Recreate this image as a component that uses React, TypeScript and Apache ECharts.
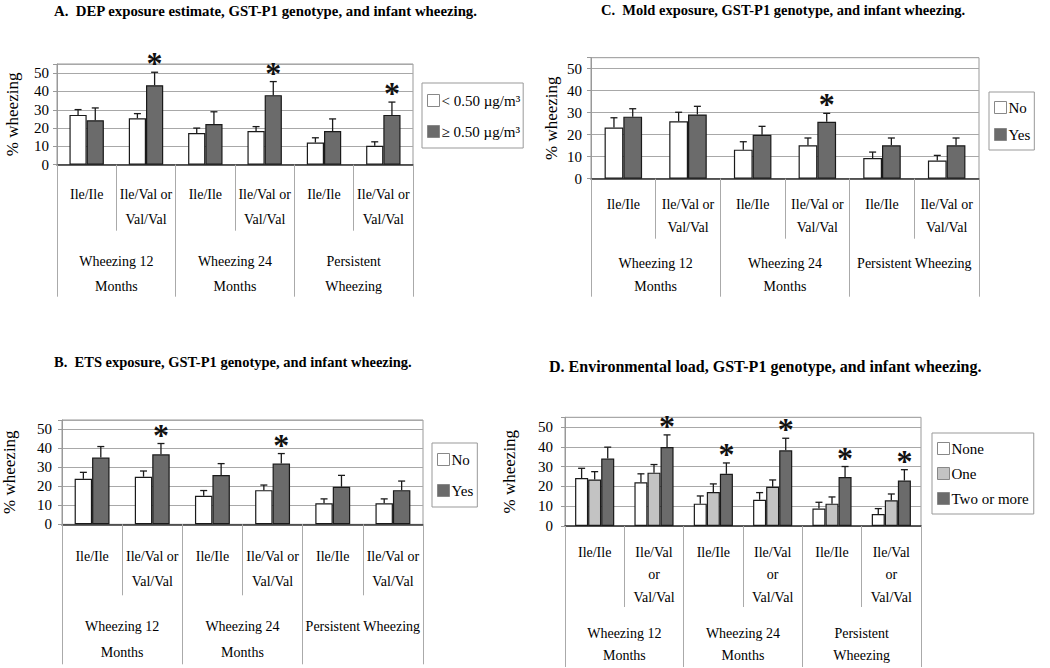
import React, { useEffect, useRef } from 'react';
import * as echarts from 'echarts';

const FONT = "'Liberation Serif', 'Times New Roman', serif";

// ---- category labels ----
const subCats = ['Ile/Ile', 'Ile/Val or\nVal/Val', 'Ile/Ile', 'Ile/Val or\nVal/Val', 'Ile/Ile', 'Ile/Val or\nVal/Val'];
const subCatsD = ['Ile/Ile', 'Ile/Val\nor\nVal/Val', 'Ile/Ile', 'Ile/Val\nor\nVal/Val', 'Ile/Ile', 'Ile/Val\nor\nVal/Val'];
const groupsTwoLine = ['Wheezing 12\nMonths', 'Wheezing 24\nMonths', 'Persistent\nWheezing'];
const groupsOneLine = ['Wheezing 12\nMonths', 'Wheezing 24\nMonths', 'Persistent Wheezing'];

// ---- A: DEP ----
const depLowName = '< 0.50 µg/m³';
const depHighName = '≥ 0.50 µg/m³';
const depLow = [27.2, 25.4, 17.3, 18.4, 12.1, 10.3];
const depLowUpper = [30.1, 27.9, 20.0, 20.8, 14.7, 12.5];
const depHigh = [24.3, 43.4, 22.2, 38.0, 18.4, 27.2];
const depHighUpper = [31.0, 50.5, 28.9, 45.4, 25.0, 34.2];
const depHighSig = [0, 1, 0, 1, 0, 1];

// ---- B: ETS ----
const etsNo = [24.0, 25.1, 15.0, 18.0, 11.1, 11.1];
const etsNoUpper = [27.4, 28.1, 17.8, 20.7, 13.4, 13.4];
const etsYes = [35.2, 36.9, 26.0, 32.0, 19.8, 18.0];
const etsYesUpper = [41.0, 42.6, 32.0, 37.3, 25.8, 22.8];
const etsYesSig = [0, 1, 0, 1, 0, 0];

// ---- C: Mold ----
const moldNo = [23.3, 26.1, 13.2, 15.2, 9.4, 8.3];
const moldNoUpper = [27.7, 30.2, 16.8, 18.5, 12.1, 10.6];
const moldYes = [28.2, 29.2, 20.0, 25.9, 15.2, 15.2];
const moldYesUpper = [31.8, 32.9, 23.8, 29.7, 18.5, 18.5];
const moldYesSig = [0, 0, 0, 1, 0, 0];

// ---- D: Environmental load ----
const loadNone = [24.3, 22.1, 11.3, 13.3, 8.8, 6.1];
const loadNoneUpper = [29.2, 26.4, 15.2, 16.9, 12.0, 8.8];
const loadOne = [23.5, 27.0, 17.2, 19.8, 11.3, 13.0];
const loadOneUpper = [27.5, 31.1, 21.3, 23.3, 14.7, 16.2];
const loadTwo = [34.1, 40.0, 26.4, 38.3, 24.8, 23.0];
const loadTwoUpper = [39.9, 46.1, 31.9, 44.4, 30.1, 28.5];
const loadTwoSig = [0, 1, 1, 1, 1, 1];

const WHITE = '#ffffff';
const DARK = '#6b6b6b';
const LIGHT = '#c3c3c3';

type Layout = {
  grid: { left: number; top: number; width: number; height: number };
  subTick: number; groupTick: number;
  subMargin: number; subLH: number; groupMargin: number; groupLH: number;
  nameGap: number; labelMargin: number; frac: number;
};

const layouts: Layout[] = [
  { grid: { left: 57, top: 64, width: 356, height: 100.7 }, subTick: 66, groupTick: 132, subMargin: 17, subLH: 25, groupMargin: 84, groupLH: 25, nameGap: 36, labelMargin: 8, frac: 0.29 },
  { grid: { left: 50, top: 420, width: 373, height: 104.3 }, subTick: 71, groupTick: 140, subMargin: 20, subLH: 25, groupMargin: 89, groupLH: 26, nameGap: 44, labelMargin: 10, frac: 0.29 },
  { grid: { left: 591, top: 57.7, width: 388, height: 121 }, subTick: 60, groupTick: 118, subMargin: 14, subLH: 23, groupMargin: 73, groupLH: 23, nameGap: 31, labelMargin: 9, frac: 0.29 },
  { grid: { left: 565, top: 417.3, width: 356, height: 108.7 }, subTick: 81, groupTick: 141, subMargin: 15, subLH: 22.5, groupMargin: 96, groupLH: 22, nameGap: 47, labelMargin: 12, frac: 0.22 },
];

function barSeries(gi: number, name: string, data: number[], color: string, frac: number) {
  return {
    type: 'bar', name, xAxisIndex: gi * 2, yAxisIndex: gi, data,
    barWidth: Math.round(frac * 100) + '%', barGap: '0%',
    itemStyle: { color, borderColor: '#1a1a1a', borderWidth: 1.2 },
    silent: true,
  };
}

function errSeries(gi: number, values: number[], uppers: number[], sig: number[] | null, idx: number, n: number, frac: number) {
  return {
    type: 'custom', xAxisIndex: gi * 2, yAxisIndex: gi, z: 5, silent: true, clip: false,
    data: values.map((v, i) => [i, v, uppers[i], sig ? sig[i] : 0]),
    renderItem: (params: any, api: any) => {
      const c = api.value(0), v = api.value(1), u = api.value(2), s = api.value(3);
      const p0 = api.coord([c, v]);
      const p1 = api.coord([c, u]);
      const bw = api.size([1, 0])[0] * frac;
      const cx = p0[0] + (idx - (n - 1) / 2) * bw;
      const cap = 3.5;
      const style = { stroke: '#1a1a1a', lineWidth: 1.3 };
      const children: any[] = [
        { type: 'line', shape: { x1: cx, y1: p0[1], x2: cx, y2: p1[1] }, style },
        { type: 'line', shape: { x1: cx - cap, y1: p1[1], x2: cx + cap, y2: p1[1] }, style },
      ];
      if (s) {
        children.push({
          type: 'text', x: cx, y: p1[1] - 9,
          style: { text: '*', font: 'bold 32px ' + FONT, fill: '#111', align: 'center', verticalAlign: 'middle' },
        });
      }
      return { type: 'group', children };
    },
  };
}

function axesFor(gi: number, subs: string[], groups: string[]) {
  const L = layouts[gi];
  const x = [
    {
      gridIndex: gi, type: 'category', data: subs, position: 'bottom', boundaryGap: true,
      axisLine: { show: true, onZero: false, lineStyle: { color: '#333', width: 1.5 } },
      axisTick: { show: true, length: L.subTick, lineStyle: { color: '#aaa' } },
      axisLabel: { interval: 0, margin: L.subMargin, fontFamily: FONT, fontSize: 14, color: '#000', lineHeight: L.subLH, verticalAlign: 'top' },
      splitLine: { show: false },
    },
    {
      gridIndex: gi, type: 'category', data: groups, position: 'bottom', boundaryGap: true,
      axisLine: { show: false },
      axisTick: { show: true, length: L.groupTick, lineStyle: { color: '#aaa' } },
      axisLabel: { interval: 0, margin: L.groupMargin, fontFamily: FONT, fontSize: 14, color: '#000', lineHeight: L.groupLH, verticalAlign: 'top' },
      splitLine: { show: false },
    },
  ];
  const y = {
    gridIndex: gi, type: 'value', min: 0, max: 55, interval: 10,
    name: '% wheezing', nameLocation: 'middle', nameGap: L.nameGap,
    nameTextStyle: { fontFamily: FONT, fontSize: 17, color: '#000' },
    axisLine: { show: true, lineStyle: { color: '#999' } },
    axisTick: { show: true, length: 4, lineStyle: { color: '#999' } },
    axisLabel: { margin: L.labelMargin, fontFamily: FONT, fontSize: 15, color: '#000', formatter: (v: number) => (v > 50 ? '' : String(v)) },
    splitLine: { show: true, lineStyle: { color: '#a8a8a8' } },
  };
  return { x, y };
}

function legendFor(left: number, top: number, names: string[], gap: number, pad: number[]) {
  return {
    orient: 'vertical', left, top, data: names, icon: 'rect', itemWidth: 12, itemHeight: 12, itemGap: gap,
    padding: pad, borderColor: '#999', borderWidth: 1, backgroundColor: '#fff',
    selectedMode: false,
    itemStyle: { borderColor: '#888', borderWidth: 1 },
    textStyle: { fontFamily: FONT, fontSize: 15, color: '#000', padding: [0, 0, 0, -3] },
  };
}

const titleStyle = (size: number) => ({ fontFamily: FONT, fontSize: size, fontWeight: 'bold' as const, color: '#000' });

export default function App() {
  const ref = useRef<HTMLDivElement>(null);
  useEffect(() => {
    if (!ref.current) return;
    const chart = echarts.init(ref.current, null, { renderer: 'svg' });
    const axA = axesFor(0, subCats, groupsTwoLine);
    const axB = axesFor(1, subCats, groupsOneLine);
    const axC = axesFor(2, subCats, groupsOneLine);
    const axD = axesFor(3, subCatsD, groupsTwoLine);
    const fA = layouts[0].frac, fB = layouts[1].frac, fC = layouts[2].frac, fD = layouts[3].frac;
    chart.setOption({
      animation: false,
      backgroundColor: '#fff',
      textStyle: { fontFamily: FONT },
      title: [
        { text: 'A.  DEP exposure estimate, GST-P1 genotype, and infant wheezing.', left: 54, top: 3, padding: 0, textStyle: titleStyle(14.8) },
        { text: 'C.  Mold exposure, GST-P1 genotype, and infant wheezing.', left: 601, top: 2, padding: 0, textStyle: titleStyle(14.5) },
        { text: 'B.  ETS exposure, GST-P1 genotype, and infant wheezing.', left: 54, top: 354, padding: 0, textStyle: titleStyle(14.5) },
        { text: 'D. Environmental load, GST-P1 genotype, and infant wheezing.', left: 549, top: 358, padding: 0, textStyle: titleStyle(16) },
      ],
      grid: layouts.map((L) => ({ ...L.grid, show: true, borderColor: '#999', borderWidth: 1, backgroundColor: 'transparent', containLabel: false })),
      xAxis: [...axA.x, ...axB.x, ...axC.x, ...axD.x],
      yAxis: [axA.y, axB.y, axC.y, axD.y],
      legend: [
        legendFor(422, 83, [depLowName, depHighName], 16, [10, 3, 9, 5]),
        legendFor(432, 443, ['No', 'Yes'], 16, [9, 4, 9, 5]),
        legendFor(989, 92, ['No', 'Yes'], 12, [8, 4, 8, 5]),
        legendFor(932, 433, ['None', 'One', 'Two or more'], 10, [8, 5, 8, 5]),
      ],
      series: [
        barSeries(0, depLowName, depLow, WHITE, fA),
        barSeries(0, depHighName, depHigh, DARK, fA),
        errSeries(0, depLow, depLowUpper, null, 0, 2, fA),
        errSeries(0, depHigh, depHighUpper, depHighSig, 1, 2, fA),

        barSeries(1, 'No', etsNo, WHITE, fB),
        barSeries(1, 'Yes', etsYes, DARK, fB),
        errSeries(1, etsNo, etsNoUpper, null, 0, 2, fB),
        errSeries(1, etsYes, etsYesUpper, etsYesSig, 1, 2, fB),

        barSeries(2, 'No', moldNo, WHITE, fC),
        barSeries(2, 'Yes', moldYes, DARK, fC),
        errSeries(2, moldNo, moldNoUpper, null, 0, 2, fC),
        errSeries(2, moldYes, moldYesUpper, moldYesSig, 1, 2, fC),

        barSeries(3, 'None', loadNone, WHITE, fD),
        barSeries(3, 'One', loadOne, LIGHT, fD),
        barSeries(3, 'Two or more', loadTwo, DARK, fD),
        errSeries(3, loadNone, loadNoneUpper, null, 0, 3, fD),
        errSeries(3, loadOne, loadOneUpper, null, 1, 3, fD),
        errSeries(3, loadTwo, loadTwoUpper, loadTwoSig, 2, 3, fD),
      ],
    });
    return () => chart.dispose();
  }, []);
  return <div ref={ref} style={{ position: 'absolute', left: 0, top: 0, width: 1050, height: 668, background: '#fff' }} />;
}
